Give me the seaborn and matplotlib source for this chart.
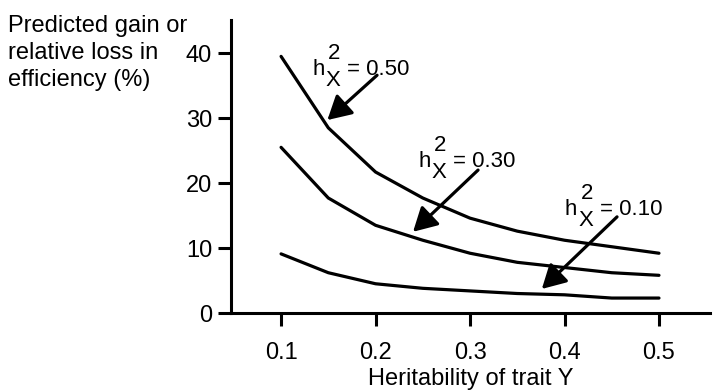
import matplotlib
matplotlib.use("Agg")
import matplotlib.pyplot as plt
import numpy as np
import pandas as pd
import seaborn as sns

# Heritability of trait Y (x axis)
h2_y = [0.10, 0.15, 0.20, 0.25, 0.30, 0.35, 0.40, 0.45, 0.50]

# Predicted gain / relative loss in efficiency (%) for each heritability of trait X
gain_hx_050 = [39.5, 28.5, 21.7, 17.7, 14.6, 12.6, 11.2, 10.2, 9.2]
gain_hx_030 = [25.5, 17.7, 13.5, 11.2, 9.2, 7.8, 7.0, 6.2, 5.8]
gain_hx_010 = [9.1, 6.2, 4.5, 3.8, 3.4, 3.0, 2.8, 2.3, 2.3]

series_names = ["0.50", "0.30", "0.10"]
x_ticks = [0.1, 0.2, 0.3, 0.4, 0.5]
y_ticks = [0, 10, 20, 30, 40]

df = pd.concat([
    pd.DataFrame({"h2y": h2_y, "gain": vals, "h2x": name})
    for name, vals in zip(series_names, [gain_hx_050, gain_hx_030, gain_hx_010])
])

sns.set_style("ticks", {"text.color": "black", "axes.labelcolor": "black",
                        "xtick.color": "black", "ytick.color": "black",
                        "axes.edgecolor": "black"})
plt.rcParams["font.family"] = ["Liberation Sans", "DejaVu Sans"]
plt.rcParams["font.size"] = 16

fig = plt.figure(figsize=(7.13, 3.91), dpi=100)
ax = fig.add_axes([231 / 713, 1 - 313 / 391, (710 - 231) / 713, (313 - 20) / 391])

sns.lineplot(data=df, x="h2y", y="gain", hue="h2x", units="h2x", estimator=None,
             palette=["black"] * 3, linewidth=2.3, legend=False, ax=ax,
             solid_joinstyle="miter")

ax.set_xlim(0.047, 0.554)
ax.set_ylim(0, 45.1)
ax.set_xticks(x_ticks)
ax.set_xticklabels([f"{v:.1f}" for v in x_ticks])
ax.set_yticks(y_ticks)
ax.set_yticklabels([str(v) for v in y_ticks])

for side in ["top", "right"]:
    ax.spines[side].set_visible(False)
for side in ["left", "bottom"]:
    ax.spines[side].set_linewidth(2.2)
    ax.spines[side].set_color("black")

ax.tick_params(axis="x", length=9, width=2.2, pad=12, labelsize=17, direction="out",
               color="black", labelcolor="black")
ax.tick_params(axis="y", length=9.5, width=2.2, pad=4, labelsize=17, direction="out",
               color="black", labelcolor="black")

ax.set_xlabel("Heritability of trait Y", fontsize=17, labelpad=3, color="black")
ax.set_ylabel("Predicted gain or\nrelative loss in\nefficiency (%)", fontsize=17,
              rotation=0, ha="left", va="top", linespacing=1.3, color="black")
ax.yaxis.set_label_coords(-0.466, 1.018)

# Curve labels h²_X = value, with the X stacked under the 2
labels = [
    ("0.50", (0.1328, 36.6), (0.2016, 36.6), (0.149, 29.7)),
    ("0.30", (0.245, 22.5), (0.3085, 22.0), (0.2397, 12.5)),
    ("0.10", (0.4005, 15.1), (0.4556, 14.8), (0.376, 3.7)),
]
for value, anchor, tail, head in labels:
    common = dict(xy=anchor, xycoords="data", textcoords="offset points",
                  ha="left", va="baseline", fontsize=16, color="black")
    ax.annotate("h", xytext=(0, 0), **common)
    ax.annotate("X", xytext=(9.5, -7.9), **common)
    ax.annotate("2", xytext=(11.3, 11.5), **common)
    ax.annotate("= " + value, xytext=(25.0, 0), **common)
    ax.annotate("", xy=head, xytext=tail, xycoords="data", textcoords="data",
                arrowprops=dict(arrowstyle="-|>,head_length=0.9,head_width=0.5",
                                mutation_scale=16, lw=2.3, color="black",
                                shrinkA=0, shrinkB=0))

fig.savefig("out.png", dpi=100)
